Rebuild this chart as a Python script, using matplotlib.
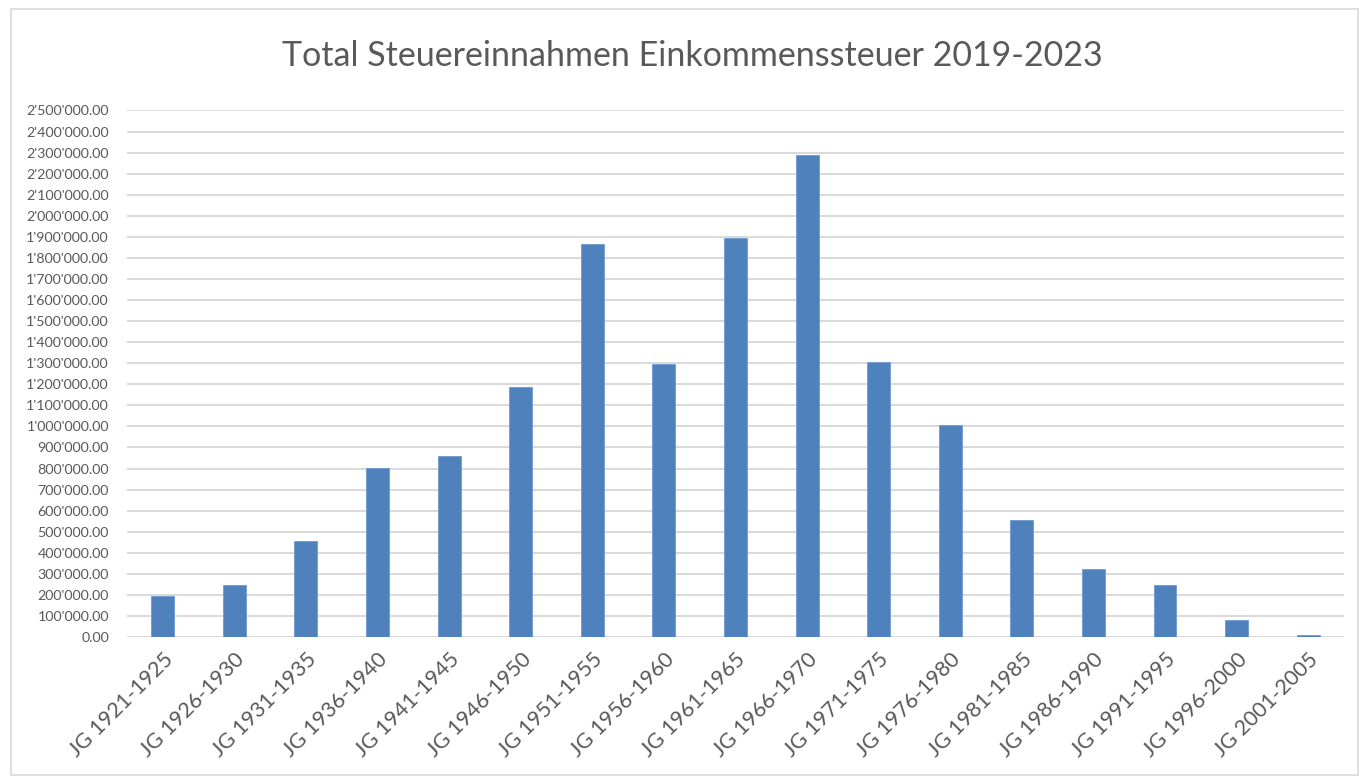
import matplotlib
matplotlib.use("Agg")
import matplotlib.pyplot as plt
from matplotlib.ticker import FuncFormatter, MultipleLocator
from matplotlib.patches import Rectangle

categories = ["JG 1921-1925", "JG 1926-1930", "JG 1931-1935", "JG 1936-1940",
              "JG 1941-1945", "JG 1946-1950", "JG 1951-1955", "JG 1956-1960",
              "JG 1961-1965", "JG 1966-1970", "JG 1971-1975", "JG 1976-1980",
              "JG 1981-1985", "JG 1986-1990", "JG 1991-1995", "JG 1996-2000",
              "JG 2001-2005"]
values = [195000, 245000, 456000, 802000, 859000, 1187000, 1865000, 1296000,
          1896000, 2290000, 1306000, 1007000, 556000, 321000, 248000, 79000, 8000]
title = "Total Steuereinnahmen Einkommenssteuer 2019-2023"

plt.rcParams["font.family"] = ["Lato", "DejaVu Sans"]
GRAY = "#595959"

fig = plt.figure(figsize=(13.61, 7.78), dpi=100)
fig.patches.append(Rectangle((0.008, 0.004), 0.99, 0.984, transform=fig.transFigure,
                             fill=False, edgecolor="#D9D9D9", lw=1.2))
ax = fig.add_axes([0.0933, 0.1812, 0.8942, 0.6768])

x = range(len(categories))
ax.bar(x, values, width=0.32, color="#4F81BD", edgecolor="#6F9BD1", lw=0.6, zorder=3)
ax.set_xlim(-0.5, len(categories) - 0.5)
ax.set_ylim(0, 2500000)
ax.yaxis.set_major_locator(MultipleLocator(100000))
ax.yaxis.set_major_formatter(FuncFormatter(lambda v, p: f"{v:,.2f}".replace(",", "'")))
ax.grid(axis="y", color="#D9D9D9", lw=1.4, zorder=0)
for s in ax.spines.values():
    s.set_visible(False)
ax.axhline(0, color="#D9D9D9", lw=1.4, zorder=2)
ax.tick_params(axis="both", length=0, colors=GRAY)
ax.tick_params(axis="y", labelsize=10.3, pad=13)
ax.set_xticks(list(x))
ax.set_xticklabels(categories, rotation=45, ha="right", rotation_mode="anchor",
                   fontsize=15.5, color=GRAY)
ax.tick_params(axis="x", pad=9)

fig.text(0.5085, 0.928, title, ha="center", va="center", fontsize=24.5, color=GRAY)

fig.savefig("out.png", dpi=100)
